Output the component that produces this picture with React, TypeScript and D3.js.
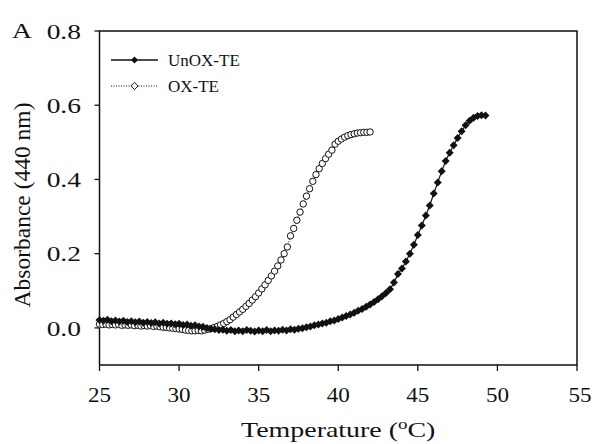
import React from 'react';
import * as d3 from 'd3';

// temperature sampling (°C) for each series
const oxStart = 25;
const oxStep = 0.2;
const unoxStart = 25;
const unoxStep = 0.25;

// OX-TE absorbance at 440 nm, 25.0 .. 42.0 °C
const oxValues = [
  0.010, 0.009, 0.010, 0.008, 0.009, 0.008, 0.009, 0.007, 0.008, 0.007,
  0.008, 0.006, 0.007, 0.005, 0.006, 0.005, 0.006, 0.004, 0.005, 0.003,
  0.002, 0.001, 0.000, -0.001, -0.002, -0.003, -0.004, -0.006, -0.007, -0.008,
  -0.008, -0.007, -0.008, -0.006, -0.004, -0.002, 0.001, 0.004, 0.008, 0.012,
  0.017, 0.022, 0.029, 0.036, 0.043, 0.050, 0.058, 0.066, 0.075, 0.084,
  0.094, 0.105, 0.116, 0.128, 0.140, 0.153, 0.167, 0.183, 0.200, 0.218,
  0.248, 0.268, 0.290, 0.312, 0.334, 0.355, 0.375, 0.395, 0.413, 0.429,
  0.443, 0.456, 0.468, 0.479, 0.495, 0.503, 0.509, 0.514, 0.518, 0.521,
  0.523, 0.525, 0.526, 0.527, 0.527, 0.528,
];

// UnOX-TE absorbance at 440 nm, 25.00 .. 49.25 °C
const unoxValues = [
  0.021, 0.019, 0.022, 0.018, 0.020, 0.017, 0.019, 0.016, 0.018, 0.015,
  0.017, 0.014, 0.016, 0.013, 0.015, 0.012, 0.014, 0.011, 0.012, 0.010,
  0.011, 0.008, 0.009, 0.006, 0.007, 0.004, 0.003, 0.000, -0.002, -0.004,
  -0.006, -0.005, -0.008, -0.006, -0.009, -0.007, -0.009, -0.006, -0.008, -0.010,
  -0.007, -0.009, -0.006, -0.009, -0.007, -0.008, -0.005, -0.007, -0.004, -0.005,
  -0.002, -0.001, 0.002, 0.004, 0.007, 0.009, 0.012, 0.014, 0.018, 0.020,
  0.024, 0.028, 0.032, 0.036, 0.041, 0.046, 0.051, 0.057, 0.063, 0.070,
  0.077, 0.085, 0.094, 0.104, 0.122, 0.145, 0.160, 0.179, 0.200, 0.224,
  0.250, 0.276, 0.303, 0.330, 0.362, 0.392, 0.422, 0.450, 0.472, 0.492,
  0.512, 0.530, 0.546, 0.558, 0.566, 0.571, 0.573, 0.572,
];

const xTicks = [25, 30, 35, 40, 45, 50, 55];
const yTicks = [0.0, 0.2, 0.4, 0.6, 0.8];

const width = 592;
const height = 444;
const font = '"Liberation Serif", "Times New Roman", serif';
const ink = '#111';

const diamond = (r: number) => `M0,${-r}L${r},0L0,${r}L${-r},0Z`;

export default function App() {
  const x = d3.scaleLinear().domain([25, 55]).range([99.5, 577]);
  const y = d3.scaleLinear().domain([-0.1, 0.8]).range([365, 31]);

  const ox = oxValues.map((v, i) => ({ t: oxStart + i * oxStep, v }));
  const unox = unoxValues.map((v, i) => ({ t: unoxStart + i * unoxStep, v }));

  const line = d3.line<{ t: number; v: number }>()
    .x(d => x(d.t))
    .y(d => y(d.v));

  const [x0, x1] = x.range();
  const [yb, yt] = y.range();

  return (
    <svg width={width} height={height} style={{ position: 'absolute', left: 0, top: 0, background: '#fff' }}>
      <rect width={width} height={height} fill="#fff" />

      {/* frame */}
      <path d={`M${x0},${yb}V${yt}H${x1}V${yb}H${x0}`} fill="none" stroke={ink} strokeWidth={1.5} />

      {/* y axis */}
      {yTicks.map(t => (
        <g key={t}>
          <line x1={x0 - 5} x2={x0} y1={y(t)} y2={y(t)} stroke={ink} strokeWidth={1.3} />
          <text
            transform={`translate(${x0 - 18.5},${y(t)}) scale(1.25,1)`}
            dy="0.35em"
            textAnchor="end"
            fontFamily={font}
            fontSize={22}
            fill={ink}
          >
            {d3.format('.1f')(t)}
          </text>
        </g>
      ))}

      {/* x axis */}
      {xTicks.map(t => (
        <g key={t}>
          <line x1={x(t)} x2={x(t)} y1={yb} y2={yb + 6} stroke={ink} strokeWidth={1.3} />
          <text
            transform={`translate(${t === 55 ? x(t) + 3 : x(t)},402) scale(1.05,1)`}
            textAnchor="middle"
            fontFamily={font}
            fontSize={22}
            fill={ink}
          >
            {t}
          </text>
        </g>
      ))}

      <text
        transform={`translate(${(x0 + x1) / 2},437) scale(1.27,1)`}
        textAnchor="middle"
        fontFamily={font}
        fontSize={22}
        fill={ink}
      >
        Temperature (<tspan dy={-8} fontSize={15}>o</tspan><tspan dy={8}>C)</tspan>
      </text>
      <text
        transform={`translate(30,${(yb + yt) / 2 + 7}) rotate(-90)`}
        textAnchor="middle"
        fontFamily={font}
        fontSize={23.5}
        fill={ink}
      >
        Absorbance (440 nm)
      </text>
      <text transform="translate(12,38) scale(1.25,1)" fontFamily={font} fontSize={22} fill={ink}>A</text>

      {/* OX-TE */}
      <path d={line(ox) ?? ''} fill="none" stroke={ink} strokeWidth={1} strokeDasharray="1,1.5" />
      {ox.map((d, i) => (
        <circle key={i} cx={x(d.t)} cy={y(d.v)} r={3.2} fill="#fff" stroke={ink} strokeWidth={1} />
      ))}

      {/* UnOX-TE */}
      <path d={line(unox) ?? ''} fill="none" stroke={ink} strokeWidth={1.2} />
      {unox.map((d, i) => (
        <path key={i} d={diamond(4)} transform={`translate(${x(d.t)},${y(d.v)})`} fill={ink} />
      ))}

      {/* legend */}
      <g fontFamily={font} fontSize={17} fill={ink}>
        <line x1={111} x2={158} y1={60} y2={60} stroke={ink} strokeWidth={1.3} />
        <path d={diamond(3.6)} transform="translate(134.5,60)" fill={ink} />
        <text x={168} y={60} dy="0.35em">UnOX-TE</text>
        <line x1={111} x2={158} y1={86} y2={86} stroke={ink} strokeWidth={1} strokeDasharray="1,1.5" />
        <path d={diamond(3.6)} transform="translate(134.5,86)" fill="#fff" stroke={ink} strokeWidth={1} />
        <text x={168} y={86} dy="0.35em">OX-TE</text>
      </g>
    </svg>
  );
}
